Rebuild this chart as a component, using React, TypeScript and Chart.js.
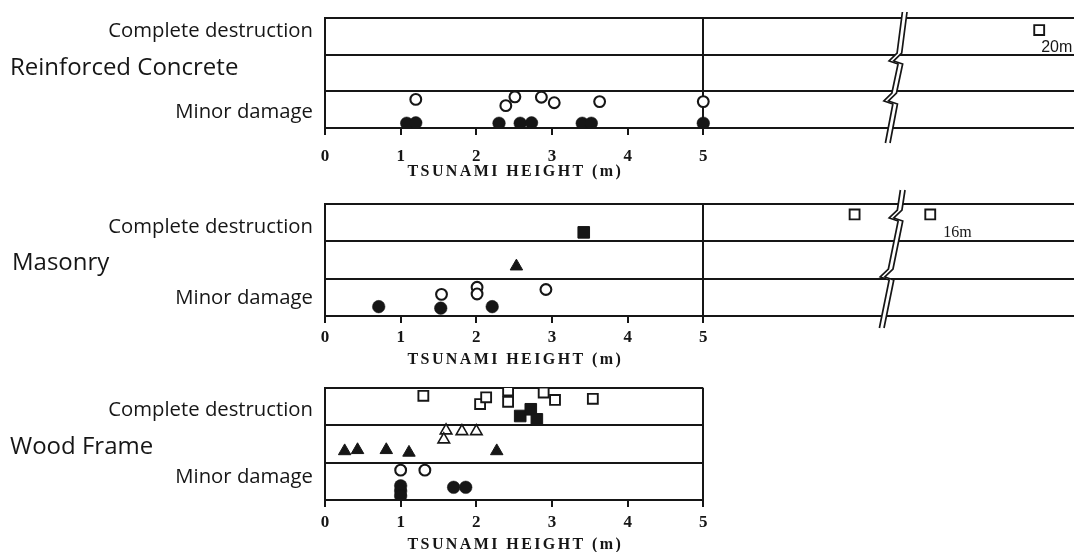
import React, { useEffect, useRef } from 'react';
import { Chart, registerables } from 'chart.js';

Chart.register(...registerables);

const INK = '#161616';

// ---------- text ----------
const panelNames = ['Reinforced Concrete', 'Masonry', 'Wood Frame'];
const damageTopLabel = 'Complete destruction';
const damageBottomLabel = 'Minor damage';
const xTickValues = [0, 1, 2, 3, 4, 5];
const xAxisTitle = 'TSUNAMI HEIGHT (m)';

// ---------- data: tsunami height (m) vs damage level (0 = none .. 3 = complete) ----------
// Reinforced concrete
const rcOpenCircleX = [1.2, 2.39, 2.51, 2.86, 3.03, 3.63, 5.0];
const rcOpenCircleY = [0.78, 0.61, 0.85, 0.84, 0.69, 0.72, 0.72];
const rcFilledCircleX = [1.08, 1.2, 2.3, 2.58, 2.73, 3.4, 3.52, 5.0];
const rcFilledCircleY = [0.13, 0.14, 0.13, 0.13, 0.14, 0.13, 0.13, 0.13];
const rcOpenSquareX = [20];
const rcOpenSquareY = [2.67];
const rcOpenSquareNotes = ['20m'];

// Masonry
const maOpenCircleX = [1.54, 2.01, 2.01, 2.92];
const maOpenCircleY = [0.58, 0.77, 0.59, 0.71];
const maFilledCircleX = [0.71, 1.53, 2.21];
const maFilledCircleY = [0.25, 0.21, 0.25];
const maFilledTriangleX = [2.53];
const maFilledTriangleY = [1.33];
const maFilledSquareX = [3.42];
const maFilledSquareY = [2.24];
const maOpenSquareX = [7.0, 16];
const maOpenSquareY = [2.72, 2.72];
const maOpenSquareNotes = ['', '16m'];

// Wood frame
const wfOpenSquareX = [1.3, 2.05, 2.13, 2.42, 2.42, 2.89, 3.04, 3.54];
const wfOpenSquareY = [2.79, 2.57, 2.75, 2.93, 2.63, 2.88, 2.68, 2.71];
const wfFilledSquareX = [2.58, 2.72, 2.8];
const wfFilledSquareY = [2.25, 2.43, 2.16];
const wfOpenTriangleX = [1.6, 1.57, 1.81, 2.0];
const wfOpenTriangleY = [1.86, 1.62, 1.84, 1.84];
const wfFilledTriangleX = [0.26, 0.43, 0.81, 1.11, 2.27];
const wfFilledTriangleY = [1.31, 1.34, 1.34, 1.27, 1.31];
const wfOpenCircleX = [1.0, 1.32];
const wfOpenCircleY = [0.8, 0.8];
const wfFilledCircleX = [1.0, 1.0, 1.0, 1.7, 1.86];
const wfFilledCircleY = [0.38, 0.24, 0.11, 0.34, 0.34];

// ---------- broken x axis ----------
const BREAK_POS = 7.55; // heights up to here are drawn to scale
const RESUME_HEIGHT = 16; // first height drawn after the break
const RESUME_POS = 8.0; // axis position used for RESUME_HEIGHT
const COMPRESSED = 0.36; // axis units per metre after the break
const axisPos = (h: number) => (h <= BREAK_POS ? h : RESUME_POS + (h - RESUME_HEIGHT) * COMPRESSED);

type Kind = 'openCircle' | 'filledCircle' | 'openSquare' | 'filledSquare' | 'openTriangle' | 'filledTriangle';

const STYLE: Record<Kind, any> = {
  openCircle: { pointStyle: 'circle', pointRadius: 5.4, pointBorderWidth: 2.1, pointBackgroundColor: '#ffffff' },
  filledCircle: { pointStyle: 'circle', pointRadius: 6.3, pointBorderWidth: 0.5, pointBackgroundColor: INK },
  openSquare: { pointStyle: 'rect', pointRadius: 7, pointBorderWidth: 1.9, pointBackgroundColor: '#ffffff' },
  filledSquare: { pointStyle: 'rect', pointRadius: 8.2, pointBorderWidth: 1, pointBackgroundColor: INK },
  openTriangle: { pointStyle: 'triangle', pointRadius: 6.7, pointBorderWidth: 1.6, pointBackgroundColor: '#ffffff' },
  filledTriangle: { pointStyle: 'triangle', pointRadius: 7.2, pointBorderWidth: 1, pointBackgroundColor: INK },
};

function series(kind: Kind, xs: number[], ys: number[], notes?: string[]) {
  return {
    type: 'scatter',
    label: kind,
    data: xs.map((x, i) => ({ x: axisPos(x), y: ys[i] })),
    showLine: false,
    pointBorderColor: INK,
    ...STYLE[kind],
    notes,
  };
}

const panels = [
  {
    name: panelNames[0],
    top: 0, height: 185, padTop: 18, xAxisH: 57, padRight: 0, xMax: 9.9,
    cdPos: 2.63, mdPos: 0.44, tickPad: 11.5, titleGap: 44,
    nameX: 10, nameY: 68,
    breakOver: [6, 15], breakZigs: [43, 83], breakSlant: 17, breakShift: 0,
    noteOffset: [2, 17], noteFont: '16px "Liberation Sans"',
    datasets: [
      series('filledCircle', rcFilledCircleX, rcFilledCircleY),
      series('openCircle', rcOpenCircleX, rcOpenCircleY),
      series('openSquare', rcOpenSquareX, rcOpenSquareY, rcOpenSquareNotes),
    ],
  },
  {
    name: panelNames[1],
    top: 185, height: 190, padTop: 19, xAxisH: 59, padRight: 0, xMax: 9.9,
    cdPos: 2.39, mdPos: 0.47, tickPad: 4.3, titleGap: 43.5,
    nameX: 12, nameY: 78,
    breakOver: [14, 12], breakZigs: [14, 73], breakSlant: 21, breakShift: -4,
    noteOffset: [13, 18], noteFont: '16px "Liberation Serif"',
    datasets: [
      series('filledCircle', maFilledCircleX, maFilledCircleY),
      series('openCircle', maOpenCircleX, maOpenCircleY),
      series('filledTriangle', maFilledTriangleX, maFilledTriangleY),
      series('filledSquare', maFilledSquareX, maFilledSquareY),
      series('openSquare', maOpenSquareX, maOpenSquareY, maOpenSquareNotes),
    ],
  },
  {
    name: panelNames[2],
    top: 375, height: 177, padTop: 13, xAxisH: 52, padRight: 370.7, xMax: 5,
    cdPos: 2.41, mdPos: 0.62, tickPad: 5.3, titleGap: 45,
    nameX: 10, nameY: 71.7,
    breakOver: null, breakZigs: null, breakSlant: 0, breakShift: 0,
    noteOffset: [0, 0], noteFont: '16px "Liberation Serif"',
    datasets: [
      series('filledCircle', wfFilledCircleX, wfFilledCircleY),
      series('openCircle', wfOpenCircleX, wfOpenCircleY),
      series('filledTriangle', wfFilledTriangleX, wfFilledTriangleY),
      series('openTriangle', wfOpenTriangleX, wfOpenTriangleY),
      series('filledSquare', wfFilledSquareX, wfFilledSquareY),
      series('openSquare', wfOpenSquareX, wfOpenSquareY),
    ],
  },
];

const decorPlugin = {
  id: 'decor',
  afterDraw(chart: any, _args: any, o: any) {
    const { ctx, chartArea: a } = chart;
    const x = chart.scales.x;
    ctx.save();
    ctx.fillStyle = INK;

    // structure-type name
    ctx.font = '24px "Open Sans"';
    ctx.textAlign = 'left';
    ctx.textBaseline = 'middle';
    ctx.fillText(o.name, o.nameX, o.nameY);

    // x-axis title with spaced letters
    ctx.font = 'bold 16px "Liberation Serif"';
    (ctx as any).letterSpacing = '2.4px';
    ctx.textAlign = 'center';
    ctx.fillText(xAxisTitle, x.getPixelForValue(2.5) + 1.2, a.bottom + o.titleGap);
    (ctx as any).letterSpacing = '0px';

    // notes next to off-scale points
    ctx.font = o.noteFont;
    ctx.textAlign = 'left';
    chart.data.datasets.forEach((ds: any, di: number) => {
      if (!ds.notes) return;
      const meta = chart.getDatasetMeta(di);
      ds.notes.forEach((t: string, i: number) => {
        if (!t) return;
        const el = meta.data[i];
        ctx.fillText(t, el.x + o.noteOffset[0], el.y + o.noteOffset[1]);
      });
    });

    // axis break symbol
    if (o.breakZigs) {
      const bx = x.getPixelForValue(BREAK_POS) + o.breakShift;
      const y0 = a.top - o.breakOver[0];
      const y1 = a.bottom + o.breakOver[1];
      const slope = o.breakSlant / (y1 - y0);
      const L = (y: number) => bx + o.breakSlant / 2 - (y - y0) * slope;
      const pts = (off: number) => {
        const p: number[][] = [[L(y0) + off, y0]];
        for (const z of o.breakZigs) {
          const yz = a.top + z;
          p.push([L(yz - 8) + off, yz - 8]);
          p.push([L(yz) - 7 + off, yz]);
          p.push([L(yz) + 2 + off, yz + 3]);
        }
        p.push([L(y1) + off, y1]);
        return p;
      };
      const left = pts(-2.3);
      const right = pts(2.3);
      ctx.beginPath();
      left.forEach(([px, py], i) => (i ? ctx.lineTo(px, py) : ctx.moveTo(px, py)));
      [...right].reverse().forEach(([px, py]) => ctx.lineTo(px, py));
      ctx.closePath();
      ctx.fillStyle = '#ffffff';
      ctx.fill();
      ctx.strokeStyle = INK;
      ctx.lineWidth = 1.7;
      for (const line of [left, right]) {
        ctx.beginPath();
        line.forEach(([px, py], i) => (i ? ctx.lineTo(px, py) : ctx.moveTo(px, py)));
        ctx.stroke();
      }
    }
    ctx.restore();
  },
};

function Panel({ cfg }: { cfg: any }) {
  const ref = useRef<HTMLCanvasElement>(null);
  useEffect(() => {
    if (!ref.current) return;
    const chart = new Chart(ref.current, {
      type: 'scatter',
      data: { datasets: cfg.datasets },
      plugins: [decorPlugin],
      options: {
        animation: false,
        responsive: false,
        events: [],
        layout: { autoPadding: false, padding: { top: cfg.padTop, right: cfg.padRight, left: 0, bottom: 0 } },
        plugins: {
          legend: { display: false },
          tooltip: { enabled: false },
          decor: cfg,
        } as any,
        scales: {
          x: {
            type: 'linear',
            min: 0,
            max: cfg.xMax,
            afterBuildTicks: (s: any) => {
              s.ticks = xTickValues.map((v) => ({ value: v }));
            },
            afterFit: (s: any) => {
              s.height = cfg.xAxisH;
              s.paddingLeft = 0;
              s.paddingRight = 0;
              s.paddingTop = 0;
              s.paddingBottom = 0;
            },
            border: { display: true, color: INK, width: 2 },
            grid: {
              color: (c: any) => (c.tick && c.tick.value === 5 ? INK : 'rgba(0,0,0,0)'),
              lineWidth: 2,
              drawTicks: true,
              tickLength: 7,
              tickColor: INK,
              tickWidth: 2,
            },
            ticks: {
              autoSkip: false,
              maxRotation: 0,
              padding: cfg.tickPad,
              color: INK,
              font: { family: '"Liberation Serif"', size: 17, weight: 'bold' },
              callback: (v: any) => String(v),
            },
          },
          y: {
            type: 'linear',
            min: 0,
            max: 3,
            afterBuildTicks: (s: any) => {
              s.ticks = [0, cfg.mdPos, 1, 2, cfg.cdPos, 3].map((v) => ({ value: v }));
            },
            afterFit: (s: any) => {
              s.width = 325;
              s.paddingLeft = 0;
              s.paddingRight = 0;
              s.paddingTop = 0;
              s.paddingBottom = 0;
            },
            border: { display: true, color: INK, width: 2 },
            grid: {
              color: (c: any) => (c.tick && Number.isInteger(c.tick.value) ? INK : 'rgba(0,0,0,0)'),
              lineWidth: 2,
              drawTicks: false,
            },
            ticks: {
              autoSkip: false,
              padding: 12,
              color: INK,
              font: { family: '"Open Sans"', size: 20.3 },
              callback: (v: any) => (v === cfg.cdPos ? damageTopLabel : v === cfg.mdPos ? damageBottomLabel : ''),
            },
          },
        },
      } as any,
    });
    return () => chart.destroy();
  }, [cfg]);
  return (
    <canvas
      ref={ref}
      width={1074}
      height={cfg.height}
      style={{ position: 'absolute', left: 0, top: cfg.top, width: 1074, height: cfg.height, display: 'block' }}
    />
  );
}

export default function App() {
  return (
    <div style={{ position: 'fixed', left: 0, top: 0, width: 1074, height: 552, background: '#ffffff', overflow: 'hidden' }}>
      {panels.map((p, i) => (
        <Panel key={i} cfg={p} />
      ))}
    </div>
  );
}
